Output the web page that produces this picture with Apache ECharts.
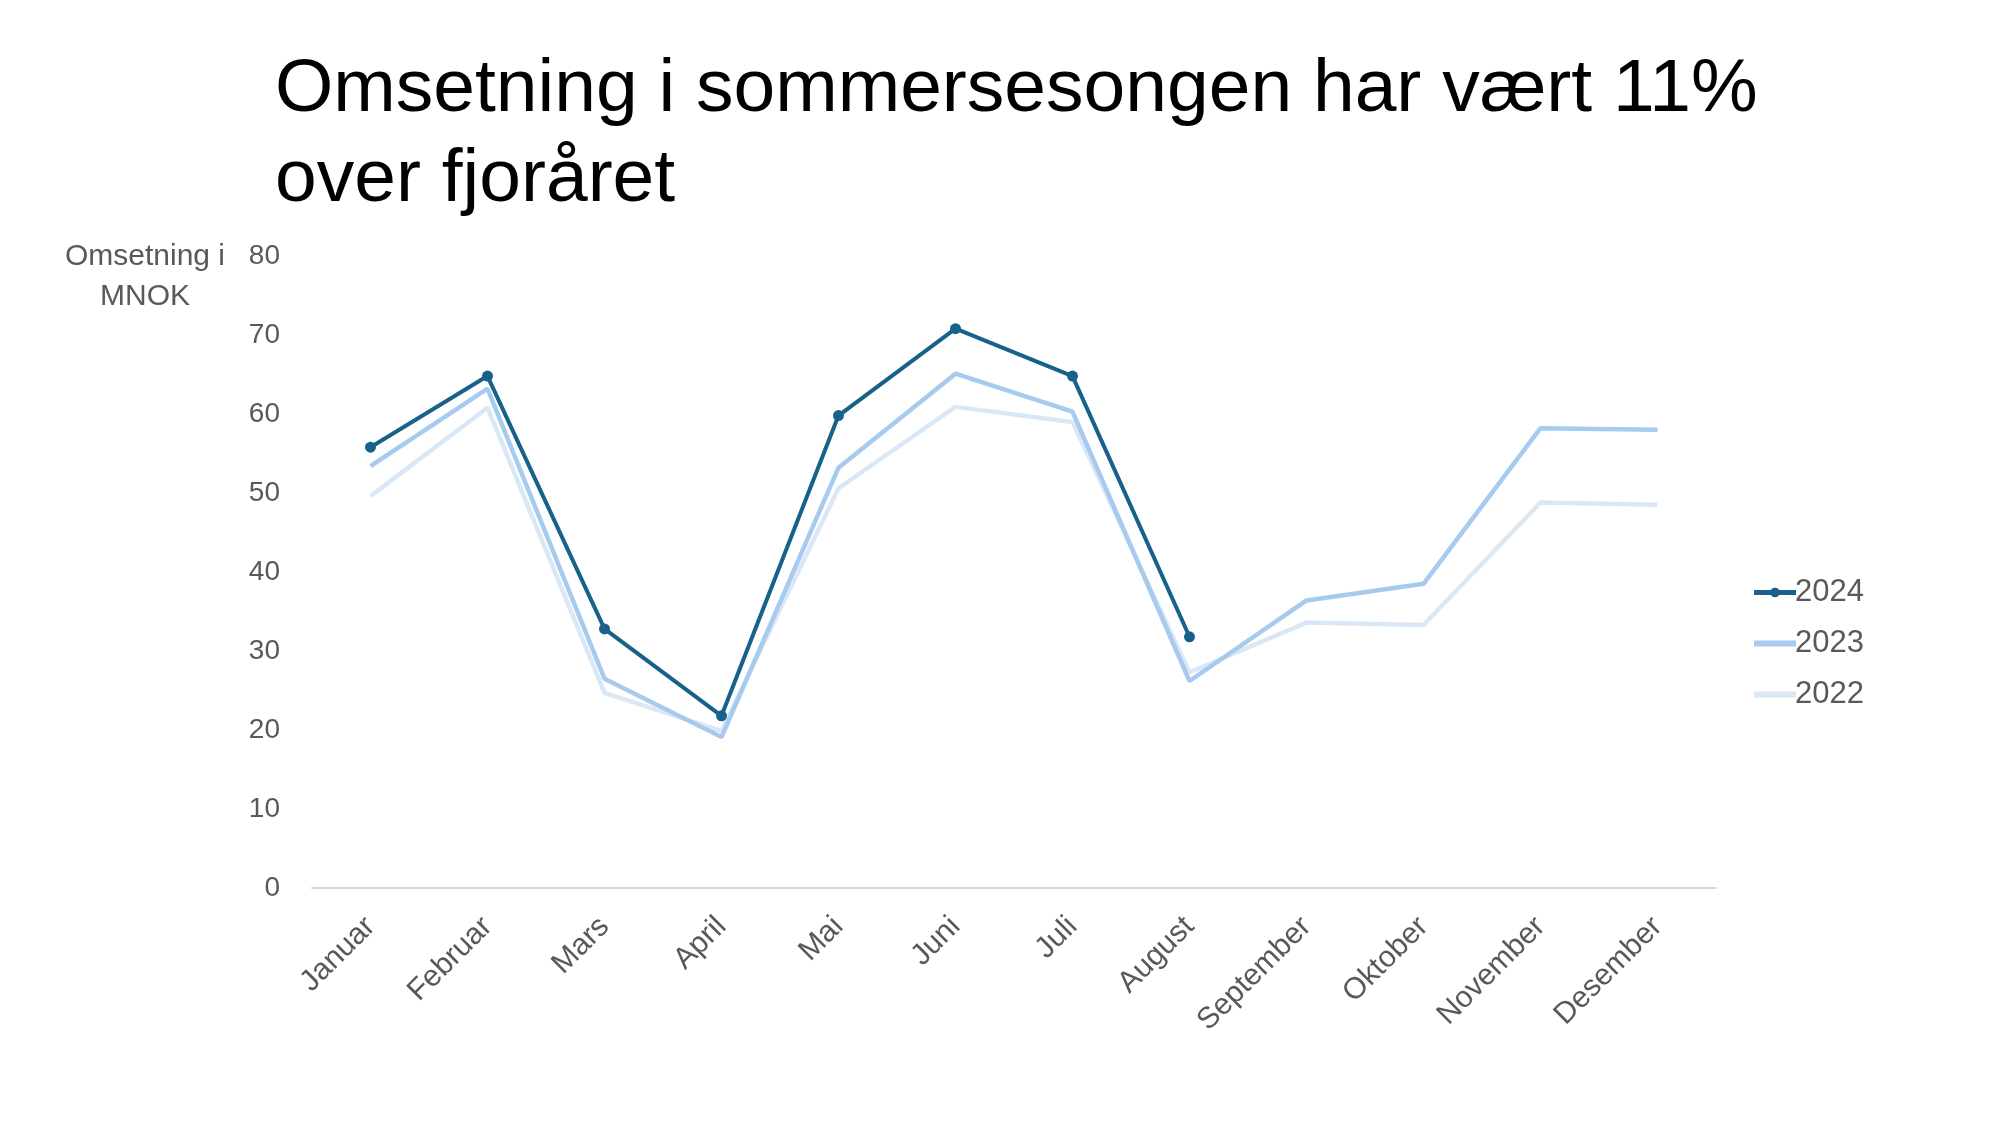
<!DOCTYPE html>
<html>
<head>
<meta charset="utf-8">
<script src="https://cdn.jsdelivr.net/npm/echarts@6/dist/echarts.min.js"></script>
<style>
  html, body { margin: 0; padding: 0; background: #fff; }
  #chart { width: 2000px; height: 1125px; }
</style>
</head>
<body>
<div id="chart"></div>
<script>
var months = ["Januar", "Februar", "Mars", "April", "Mai", "Juni", "Juli", "August", "September", "Oktober", "November", "Desember"];
var yTicks = [0, 10, 20, 30, 40, 50, 60, 70, 80];
var v2024 = [55.8, 64.8, 32.8, 21.8, 59.8, 70.8, 64.8, 31.8, null, null, null, null];
var v2023 = [53.4, 63.2, 26.5, 19.1, 53.2, 65.1, 60.3, 26.2, 36.4, 38.5, 58.2, 58.0];
var v2022 = [49.6, 60.8, 24.7, 19.9, 50.6, 60.9, 59.0, 27.3, 33.6, 33.3, 48.8, 48.5];

var font = "'Liberation Sans', Arial, sans-serif";
var grey = "#595959";

var myChart = echarts.init(document.getElementById("chart"));
myChart.setOption({
  backgroundColor: "#fff",
  animation: false,
  title: [
    {
      text: "Omsetning i sommersesongen har vært 11%\nover fjoråret",
      left: 270,
      top: 40,
      textStyle: { fontFamily: font, fontSize: 75, fontWeight: "normal", color: "#000", lineHeight: 90 }
    },
    {
      text: "Omsetning i\nMNOK",
      left: 140,
      top: 232,
      textAlign: "center",
      textStyle: { fontFamily: font, fontSize: 30, fontWeight: "normal", color: grey, lineHeight: 40 }
    }
  ],
  legend: {
    orient: "vertical",
    left: 1746,
    top: 572,
    itemGap: 20,
    itemWidth: 42,
    itemHeight: 12,
    data: [
      { name: "2024", lineStyle: { width: 5 } },
      { name: "2023", itemStyle: { opacity: 0 }, lineStyle: { width: 6 } },
      { name: "2022", itemStyle: { opacity: 0 }, lineStyle: { width: 6 } }
    ],
    textStyle: { fontFamily: font, fontSize: 31, color: grey, padding: [0, 0, 0, -6] }
  },
  grid: { left: 312, right: 284, top: 256, bottom: 237 },
  xAxis: {
    type: "category",
    data: months,
    boundaryGap: true,
    axisLine: { lineStyle: { color: "#d9d9d9", width: 2 } },
    axisTick: { show: false },
    axisLabel: { rotate: 45, margin: 34, fontFamily: font, fontSize: 30, color: grey, interval: 0 }
  },
  yAxis: {
    type: "value",
    min: yTicks[0],
    max: yTicks[yTicks.length - 1],
    interval: 10,
    splitLine: { show: false },
    axisLine: { show: false },
    axisTick: { show: false },
    axisLabel: { margin: 32, fontFamily: font, fontSize: 28, color: grey }
  },
  series: [
    {
      name: "2022",
      type: "line",
      data: v2022,
      symbol: "none",
      z: 1,
      itemStyle: { color: "#dae8f6" },
      lineStyle: { color: "#dae8f6", width: 4.5 }
    },
    {
      name: "2023",
      type: "line",
      data: v2023,
      symbol: "none",
      z: 2,
      itemStyle: { color: "#a6cbee" },
      lineStyle: { color: "#a6cbee", width: 4.5 }
    },
    {
      name: "2024",
      type: "line",
      data: v2024,
      symbol: "circle",
      symbolSize: 11,
      z: 3,
      itemStyle: { color: "#18618a" },
      lineStyle: { color: "#18618a", width: 4 }
    }
  ]
});
</script>
</body>
</html>
